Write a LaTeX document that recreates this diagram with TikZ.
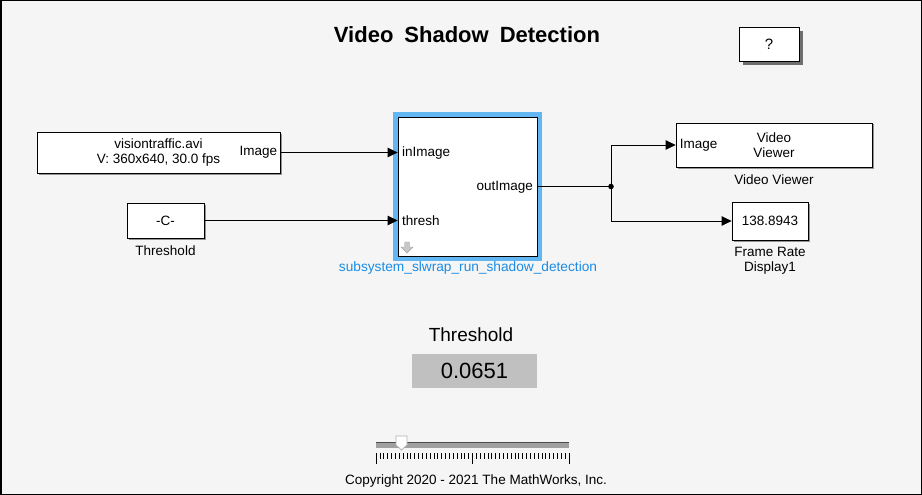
\documentclass[tikz,border=0pt]{standalone}
\usepackage{fontspec}
\setmainfont{Liberation Sans}
\usetikzlibrary{arrows.meta,shadows}
\definecolor{canvasgray}{HTML}{F5F5F5}
\definecolor{selblue}{HTML}{62B6F2}
\definecolor{nameblue}{HTML}{1A8CE6}
\definecolor{readoutgray}{HTML}{C0C0C0}
\definecolor{trackgray}{HTML}{A0A0A0}
\newcommand{\blockfont}{\fontsize{13.5}{15}\selectfont}
\tikzset{
	block/.style={draw=black, line width=0.8pt, fill=white, inner sep=0pt, align=center, font=\blockfont,
		drop shadow={shadow xshift=1.5pt, shadow yshift=-1.5pt, fill=black, opacity=0.4}},
	subblock/.style={draw=black, line width=0.8pt, fill=white, inner sep=0pt,
		preaction={draw=selblue, line width=10pt}},
	helpbox/.style={draw=black, line width=0.8pt, fill=white, inner sep=0pt, font=\fontsize{15}{17}\selectfont,
		drop shadow={shadow xshift=4pt, shadow yshift=-4pt, fill=black, opacity=0.55}},
	lbl/.style={inner sep=0pt, align=center, font=\blockfont},
	wire/.style={line width=0.8pt},
	signal/.style={wire, -{Triangle[length=10pt,width=9.5pt]}}
}

\begin{document}
\begin{tikzpicture}[x=1pt, y=-1pt]
			%%%%% START %%%%%
			\useasboundingbox (0,0) rectangle (922,495);
			\fill[canvasgray] (0,0) rectangle (922,495);
			\draw[line width=1.5pt] (0.75,0.75) rectangle (921.25,494.25);
			
			\node[inner sep=0pt, font=\fontsize{22}{24}\selectfont\bfseries] (title) at (467,35) {Video\hspace{0.5em}Shadow\hspace{0.5em}Detection};
			\node[helpbox, minimum width=60pt, minimum height=34pt] (help) at (769,44) {?};
			
			% source blocks
			\node[block, minimum width=243pt, minimum height=41pt] (src) at (158.5,152.5) {visiontraffic.avi\\V: 360x640, 30.0 fps};
			\node[lbl, anchor=east] (srcport) at ([xshift=-3pt]src.east) {Image};
			
			\node[block, minimum width=77pt, minimum height=35pt] (const) at (165.5,220.5) {-C-};
			\node[lbl] (constname) at (165.5,251) {Threshold};
			
			% subsystem
			\node[subblock, minimum width=139pt, minimum height=139pt] (sub) at (467.5,186.5) {};
			\node[lbl, anchor=west] (inport) at (402,153) {inImage};
			\node[lbl, anchor=west] (threshport) at (402,221) {thresh};
			\node[lbl, anchor=east] (outport) at (533,187) {outImage};
			\fill[gray!45, draw=gray!70] (404.5,242) -- (409.5,242) -- (409.5,247) -- (413,247) -- (407,253) -- (401,247) -- (404.5,247) -- cycle;
			\node[lbl, text=nameblue, font=\fontsize{13.7}{15}\selectfont] (subname) at (468,268) {subsystem\_slwrap\_run\_shadow\_detection};
			
			% sinks
			\node[block, minimum width=196pt, minimum height=44pt] (vv) at (774,145) {Video\\Viewer};
			\node[lbl, anchor=west] (vvport) at ([xshift=4pt]vv.west) {Image};
			\node[lbl] (vvname) at (774,180) {Video Viewer};
			
			\node[block, minimum width=76pt, minimum height=38pt] (disp) at (770,221) {138.8943};
			\node[lbl] (dispname) at (770,261) {Frame Rate\\Display1};
			
			% signal lines
			\coordinate (br) at (611,186.5);
			\draw[signal] (src.east) -- (src.east -| sub.west);
			\draw[signal] (const.east) -- (const.east -| sub.west);
			\draw[wire] (sub.east) -- (br);
			\draw[signal] (br) |- (vv.west);
			\draw[signal] (br) |- (disp.west);
			\fill (br) circle (2.8);
			
			% dashboard
			\node[inner sep=0pt, font=\fontsize{19}{21}\selectfont] (knobname) at (471,335) {Threshold};
			\node[fill=readoutgray, minimum width=125pt, minimum height=34pt, inner sep=0pt, font=\fontsize{22}{24}\selectfont] (readout) at (474.5,371) {0.0651};
			
			\fill[trackgray] (376,442) rectangle (569,448);
			\draw[gray!60!black, line width=0.6pt] (376,442.3) -- (569,442.3);
			\foreach \i in {0,...,50} {
				\pgfmathsetmacro{\tx}{376+\i*3.86}
				\draw[line width=0.7pt] (\tx,453) -- (\tx,459);
			}
			\foreach \i in {0,25,50} {
				\draw[line width=1pt] ({376+\i*3.86},453) -- ({376+\i*3.86},464);
			}
			\draw[fill=white, draw=gray!60, line width=0.8pt] (396,436) -- (407,436) -- (407,445) -- (401.5,450) -- (396,445) -- cycle;
			
			\node[inner sep=0pt, font=\fontsize{13.5}{15}\selectfont] (copy) at (476,481) {Copyright 2020 - 2021 The MathWorks, Inc.};
			%%%%% END %%%%%
		\end{tikzpicture}
\end{document}
